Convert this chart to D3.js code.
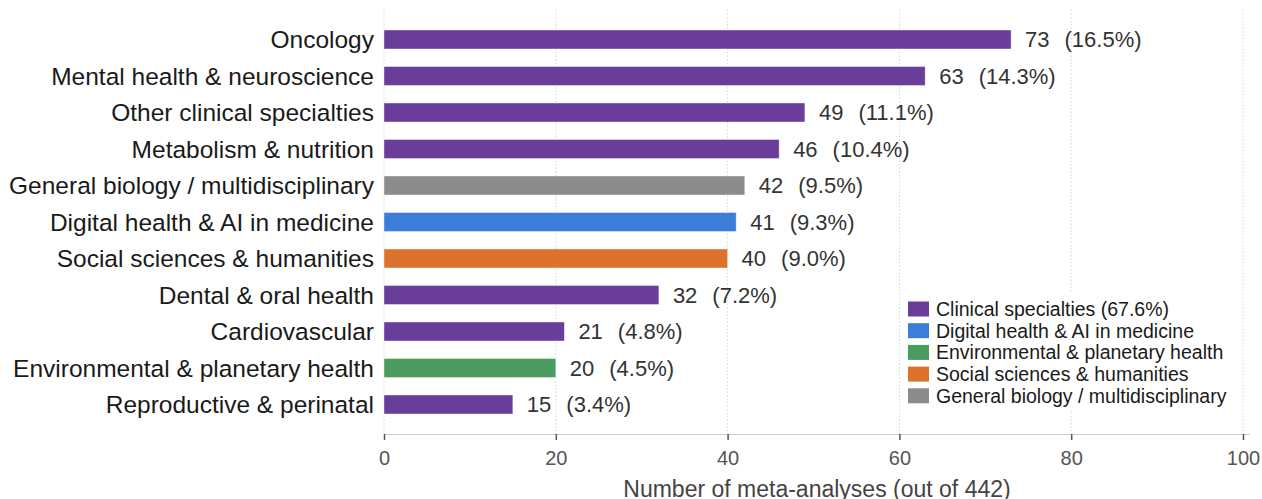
<!DOCTYPE html>
<html>
<head>
<meta charset="utf-8">
<script src="https://cdn.jsdelivr.net/npm/d3@7"></script>
<style>
    body { margin: 0; background: #fff; }
    text { font-family: "Liberation Sans", Arial, sans-serif; }
</style>
</head>
<body>
<svg id="chart" width="1262" height="499"></svg>
<script>
// Chart data
const categories = [
    "Oncology",
    "Mental health & neuroscience",
    "Other clinical specialties",
    "Metabolism & nutrition",
    "General biology / multidisciplinary",
    "Digital health & AI in medicine",
    "Social sciences & humanities",
    "Dental & oral health",
    "Cardiovascular",
    "Environmental & planetary health",
    "Reproductive & perinatal"
];
const counts = [73, 63, 49, 46, 42, 41, 40, 32, 21, 20, 15];
const percents = ["16.5%", "14.3%", "11.1%", "10.4%", "9.5%", "9.3%", "9.0%", "7.2%", "4.8%", "4.5%", "3.4%"];
const groups = ["clinical", "clinical", "clinical", "clinical", "general", "digital", "social", "clinical", "clinical", "environmental", "clinical"];

const groupKeys = ["clinical", "digital", "environmental", "social", "general"];
const groupLabels = [
    "Clinical specialties (67.6%)",
    "Digital health & AI in medicine",
    "Environmental & planetary health",
    "Social sciences & humanities",
    "General biology / multidisciplinary"
];
const groupColors = ["#6a3d9a", "#3b7dd8", "#4a9c60", "#dc722c", "#8c8c8c"];

const xTicks = [0, 20, 40, 60, 80, 100];
const xTitle = "Number of meta-analyses (out of 442)";

const svg = d3.select("#chart");

const x = d3.scaleLinear().domain([0, 100]).range([384, 1243]);
const y = d3.scaleBand()
    .domain(categories)
    .range([21.25, 422.75])
    .paddingInner(0.48)
    .paddingOuter(0.24);

const color = d3.scaleOrdinal().domain(groupKeys).range(groupColors);

// Dotted gridlines
svg.append("g")
    .selectAll("line")
    .data(xTicks)
    .enter().append("line")
    .attr("x1", d => x(d))
    .attr("x2", d => x(d))
    .attr("y1", 10)
    .attr("y2", 434)
    .attr("stroke", "#d6d6d6")
    .attr("stroke-width", 1)
    .attr("stroke-dasharray", "1.5,2");

// Bars
const rows = categories.map((c, i) => ({ name: c, value: counts[i], pct: percents[i], group: groups[i] }));

svg.append("g")
    .selectAll("rect")
    .data(rows)
    .enter().append("rect")
    .attr("x", x(0))
    .attr("y", d => y(d.name))
    .attr("width", d => x(d.value) - x(0))
    .attr("height", y.bandwidth())
    .attr("fill", d => color(d.group))
    .attr("stroke", "#fff")
    .attr("stroke-opacity", 0.5)
    .attr("stroke-width", 0.8);

// Category labels
svg.append("g")
    .selectAll("text")
    .data(rows)
    .enter().append("text")
    .attr("x", 374)
    .attr("y", d => y(d.name) + y.bandwidth() / 2)
    .attr("dy", "0.36em")
    .attr("text-anchor", "end")
    .attr("font-size", 24.5)
    .attr("fill", "#1a1a1a")
    .text(d => d.name);

// Value labels: count, then share in parentheses
const valueLabel = svg.append("g")
    .selectAll("text")
    .data(rows)
    .enter().append("text")
    .attr("x", d => x(d.value) + 14)
    .attr("y", d => y(d.name) + y.bandwidth() / 2)
    .attr("dy", "0.36em")
    .attr("font-size", 22)
    .attr("fill", "#333");

valueLabel.append("tspan").text(d => d.value);
valueLabel.append("tspan").attr("dx", 15).text(d => `(${d.pct})`);

// X axis
const axis = svg.append("g")
    .attr("transform", "translate(0,434)")
    .call(d3.axisBottom(x).tickValues(xTicks).tickSize(6).tickPadding(11));
axis.select(".domain").attr("stroke", "#cccccc").attr("d", `M${x(0)},0.5H1250`);
axis.selectAll(".tick line").attr("stroke", "#555").attr("stroke-width", 1.5);
axis.selectAll(".tick text")
    .attr("font-size", 20)
    .attr("fill", "#555")
    .attr("font-family", "Liberation Sans, Arial, sans-serif");

svg.append("text")
    .attr("x", 817)
    .attr("y", 496.5)
    .attr("text-anchor", "middle")
    .attr("font-size", 23)
    .attr("fill", "#444")
    .text(xTitle);

// Legend
const legend = svg.append("g").attr("transform", "translate(908,298)");
legend.append("rect")
    .attr("x", -8)
    .attr("y", -6)
    .attr("width", 332)
    .attr("height", 118)
    .attr("fill", "#fff");

const item = legend.selectAll(".item")
    .data(groupKeys)
    .enter().append("g")
    .attr("class", "item")
    .attr("transform", (d, i) => `translate(0,${i * 21.7})`);

item.append("rect")
    .attr("width", 21)
    .attr("height", 15)
    .attr("y", 3.5)
    .attr("fill", d => color(d));

item.append("text")
    .attr("x", 28)
    .attr("y", 11)
    .attr("dy", "0.36em")
    .attr("font-size", 19.5)
    .attr("fill", "#1a1a1a")
    .text((d, i) => groupLabels[i]);
</script>
</body>
</html>
